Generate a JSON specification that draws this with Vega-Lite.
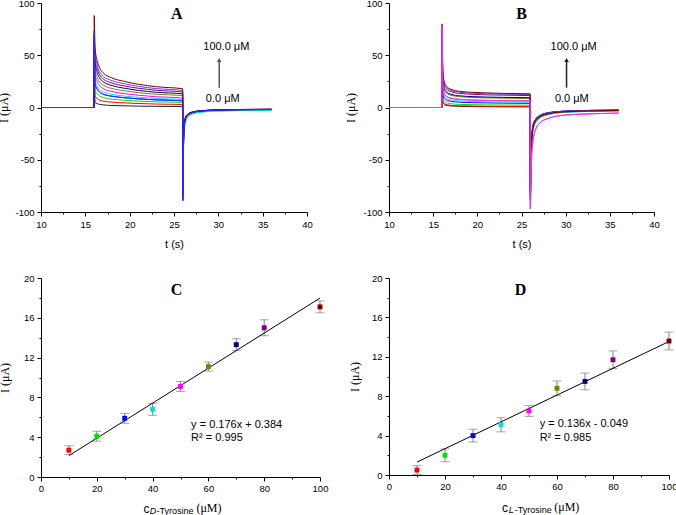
{
  "$schema": "https://vega.github.io/schema/vega-lite/v6.json",
  "background": "white",
  "padding": {"left": -3, "top": -2, "right": 0, "bottom": 0},
  "columns": 2,
  "bounds": "flush",
  "spacing": {"row": 66, "column": 69},
  "config": {
    "view": {"stroke": null},
    "axis": {
      "grid": false,
      "domainColor": "#000000",
      "tickColor": "#000000",
      "labelColor": "#000000",
      "titleColor": "#000000",
      "labelFont": "Liberation Sans",
      "labelFontSize": 9.5,
      "labelPadding": 3,
      "labelFlush": false,
      "labelOverlap": false,
      "tickCount": 30,
      "titleFont": "Liberation Sans",
      "titleFontSize": 11,
      "titleFontWeight": "normal"
    },
    "axisY": {"titleFont": "Liberation Serif", "titleFontSize": 12}
  },
  "datasets": {
    "curvesA": [
      {"c":0,"t":10,"i":0},{"c":0,"t":15.98,"i":0},{"c":0,"t":16,"i":40},{"c":0,"t":16.1,"i":4.9},{"c":0,"t":16.3,"i":3.8},{"c":0,"t":16.6,"i":3.0},{"c":0,"t":17,"i":2.5},{"c":0,"t":18,"i":1.9},{"c":0,"t":19.5,"i":1.6},{"c":0,"t":21,"i":1.3},{"c":0,"t":23,"i":1.1},{"c":0,"t":25.98,"i":0.9},{"c":0,"t":26,"i":-60},{"c":0,"t":26.1,"i":-25},{"c":0,"t":26.3,"i":-11},{"c":0,"t":26.6,"i":-7},{"c":0,"t":27,"i":-5.2},{"c":0,"t":28,"i":-3.6},{"c":0,"t":30,"i":-2.6},{"c":0,"t":33,"i":-2.2},{"c":0,"t":36,"i":-2.0},
      {"c":10,"t":10,"i":0},{"c":10,"t":15.98,"i":0},{"c":10,"t":16,"i":45},{"c":10,"t":16.1,"i":10.9},{"c":10,"t":16.3,"i":8.8},{"c":10,"t":16.6,"i":7.1},{"c":10,"t":17,"i":6.1},{"c":10,"t":18,"i":5.1},{"c":10,"t":19.5,"i":4.4},{"c":10,"t":21,"i":3.8},{"c":10,"t":23,"i":3.3},{"c":10,"t":25.98,"i":2.9},{"c":10,"t":26,"i":-65},{"c":10,"t":26.1,"i":-26},{"c":10,"t":26.3,"i":-11.5},{"c":10,"t":26.6,"i":-7.2},{"c":10,"t":27,"i":-5.4},{"c":10,"t":28,"i":-3.7},{"c":10,"t":30,"i":-2.7},{"c":10,"t":33,"i":-2.3},{"c":10,"t":36,"i":-2.1},
      {"c":20,"t":10,"i":0},{"c":20,"t":15.98,"i":0},{"c":20,"t":16,"i":48},{"c":20,"t":16.1,"i":16.8},{"c":20,"t":16.3,"i":13.6},{"c":20,"t":16.6,"i":11.1},{"c":20,"t":17,"i":9.6},{"c":20,"t":18,"i":8.0},{"c":20,"t":19.5,"i":6.9},{"c":20,"t":21,"i":6.1},{"c":20,"t":23,"i":5.4},{"c":20,"t":25.98,"i":4.8},{"c":20,"t":26,"i":-70},{"c":20,"t":26.1,"i":-28},{"c":20,"t":26.3,"i":-13},{"c":20,"t":26.6,"i":-8.5},{"c":20,"t":27,"i":-6.2},{"c":20,"t":28,"i":-4.3},{"c":20,"t":30,"i":-3.2},{"c":20,"t":33,"i":-2.8},{"c":20,"t":36,"i":-2.6},
      {"c":40,"t":10,"i":0},{"c":40,"t":15.98,"i":0},{"c":40,"t":16,"i":52},{"c":40,"t":16.1,"i":26.2},{"c":40,"t":16.3,"i":21.3},{"c":40,"t":16.6,"i":17.4},{"c":40,"t":17,"i":15.0},{"c":40,"t":18,"i":12.6},{"c":40,"t":19.5,"i":10.9},{"c":40,"t":21,"i":9.7},{"c":40,"t":23,"i":8.6},{"c":40,"t":25.98,"i":7.6},{"c":40,"t":26,"i":-75},{"c":40,"t":26.1,"i":-30},{"c":40,"t":26.3,"i":-14},{"c":40,"t":26.6,"i":-9},{"c":40,"t":27,"i":-6.5},{"c":40,"t":28,"i":-4.5},{"c":40,"t":30,"i":-3.3},{"c":40,"t":33,"i":-2.9},{"c":40,"t":36,"i":-2.7},
      {"c":50,"t":10,"i":0},{"c":50,"t":15.98,"i":0},{"c":50,"t":16,"i":56},{"c":50,"t":16.1,"i":31.8},{"c":50,"t":16.3,"i":25.8},{"c":50,"t":16.6,"i":21.0},{"c":50,"t":17,"i":18.2},{"c":50,"t":18,"i":15.3},{"c":50,"t":19.5,"i":13.2},{"c":50,"t":21,"i":11.7},{"c":50,"t":23,"i":10.3},{"c":50,"t":25.98,"i":9.1},{"c":50,"t":26,"i":-70},{"c":50,"t":26.1,"i":-24},{"c":50,"t":26.3,"i":-10.5},{"c":50,"t":26.6,"i":-6.6},{"c":50,"t":27,"i":-4.9},{"c":50,"t":28,"i":-3.4},{"c":50,"t":30,"i":-2.4},{"c":50,"t":33,"i":-2.0},{"c":50,"t":36,"i":-1.8},
      {"c":60,"t":10,"i":0},{"c":60,"t":15.98,"i":0},{"c":60,"t":16,"i":60},{"c":60,"t":16.1,"i":36.7},{"c":60,"t":16.3,"i":30.0},{"c":60,"t":16.6,"i":24.7},{"c":60,"t":17,"i":21.5},{"c":60,"t":18,"i":18.2},{"c":60,"t":19.5,"i":15.9},{"c":60,"t":21,"i":14.2},{"c":60,"t":23,"i":12.7},{"c":60,"t":25.98,"i":11.4},{"c":60,"t":26,"i":-68},{"c":60,"t":26.1,"i":-25},{"c":60,"t":26.3,"i":-11},{"c":60,"t":26.6,"i":-7},{"c":60,"t":27,"i":-5.1},{"c":60,"t":28,"i":-3.5},{"c":60,"t":30,"i":-2.5},{"c":60,"t":33,"i":-2.1},{"c":60,"t":36,"i":-1.9},
      {"c":70,"t":10,"i":0},{"c":70,"t":15.98,"i":0},{"c":70,"t":16,"i":64},{"c":70,"t":16.1,"i":42.3},{"c":70,"t":16.3,"i":34.6},{"c":70,"t":16.6,"i":28.4},{"c":70,"t":17,"i":24.7},{"c":70,"t":18,"i":21.0},{"c":70,"t":19.5,"i":18.3},{"c":70,"t":21,"i":16.3},{"c":70,"t":23,"i":14.6},{"c":70,"t":25.98,"i":13.0},{"c":70,"t":26,"i":-72},{"c":70,"t":26.1,"i":-23},{"c":70,"t":26.3,"i":-10},{"c":70,"t":26.6,"i":-6.5},{"c":70,"t":27,"i":-4.8},{"c":70,"t":28,"i":-3.3},{"c":70,"t":30,"i":-2.4},{"c":70,"t":33,"i":-2.0},{"c":70,"t":36,"i":-1.8},
      {"c":80,"t":10,"i":0},{"c":80,"t":15.98,"i":0},{"c":80,"t":16,"i":68},{"c":80,"t":16.1,"i":46.7},{"c":80,"t":16.3,"i":38.3},{"c":80,"t":16.6,"i":31.6},{"c":80,"t":17,"i":27.5},{"c":80,"t":18,"i":23.4},{"c":80,"t":19.5,"i":20.5},{"c":80,"t":21,"i":18.4},{"c":80,"t":23,"i":16.5},{"c":80,"t":25.98,"i":14.8},{"c":80,"t":26,"i":-75},{"c":80,"t":26.1,"i":-22},{"c":80,"t":26.3,"i":-9.5},{"c":80,"t":26.6,"i":-6.2},{"c":80,"t":27,"i":-4.6},{"c":80,"t":28,"i":-3.2},{"c":80,"t":30,"i":-2.3},{"c":80,"t":33,"i":-1.9},{"c":80,"t":36,"i":-1.7},
      {"c":90,"t":10,"i":0},{"c":90,"t":15.98,"i":0},{"c":90,"t":16,"i":74},{"c":90,"t":16.1,"i":50.9},{"c":90,"t":16.3,"i":41.8},{"c":90,"t":16.6,"i":34.5},{"c":90,"t":17,"i":30.1},{"c":90,"t":18,"i":25.7},{"c":90,"t":19.5,"i":22.6},{"c":90,"t":21,"i":20.2},{"c":90,"t":23,"i":18.1},{"c":90,"t":25.98,"i":16.3},{"c":90,"t":26,"i":-80},{"c":90,"t":26.1,"i":-22},{"c":90,"t":26.3,"i":-9.5},{"c":90,"t":26.6,"i":-6.2},{"c":90,"t":27,"i":-4.6},{"c":90,"t":28,"i":-3.2},{"c":90,"t":30,"i":-2.3},{"c":90,"t":33,"i":-1.9},{"c":90,"t":36,"i":-1.7},
      {"c":100,"t":10,"i":0},{"c":100,"t":15.98,"i":0},{"c":100,"t":16,"i":88},{"c":100,"t":16.1,"i":56.5},{"c":100,"t":16.3,"i":46.3},{"c":100,"t":16.6,"i":38.2},{"c":100,"t":17,"i":33.3},{"c":100,"t":18,"i":28.3},{"c":100,"t":19.5,"i":24.8},{"c":100,"t":21,"i":22.2},{"c":100,"t":23,"i":19.9},{"c":100,"t":25.98,"i":17.9},{"c":100,"t":26,"i":-85},{"c":100,"t":26.1,"i":-21},{"c":100,"t":26.3,"i":-9},{"c":100,"t":26.6,"i":-6},{"c":100,"t":27,"i":-4.5},{"c":100,"t":28,"i":-3.1},{"c":100,"t":30,"i":-2.2},{"c":100,"t":33,"i":-1.8},{"c":100,"t":36,"i":-1.6},
      {"c":30,"t":10,"i":0},{"c":30,"t":15.98,"i":0},{"c":30,"t":16,"i":70},{"c":30,"t":16.1,"i":22.4},{"c":30,"t":16.3,"i":18.2},{"c":30,"t":16.6,"i":14.8},{"c":30,"t":17,"i":12.8},{"c":30,"t":18,"i":10.8},{"c":30,"t":19.5,"i":9.3},{"c":30,"t":21,"i":8.2},{"c":30,"t":23,"i":7.3},{"c":30,"t":25.98,"i":6.4},{"c":30,"t":26,"i":-89},{"c":30,"t":26.1,"i":-24},{"c":30,"t":26.3,"i":-10.5},{"c":30,"t":26.6,"i":-6.8},{"c":30,"t":27,"i":-5.0},{"c":30,"t":28,"i":-3.4},{"c":30,"t":30,"i":-2.5},{"c":30,"t":33,"i":-2.1},{"c":30,"t":36,"i":-1.9}
    ],
    "curvesB": [
      {"c":0,"t":10,"i":0},{"c":0,"t":15.98,"i":0},{"c":0,"t":16,"i":50},{"c":0,"t":16.1,"i":4.6},{"c":0,"t":16.3,"i":2.6},{"c":0,"t":16.6,"i":1.8},{"c":0,"t":17,"i":1.5},{"c":0,"t":18,"i":1.1},{"c":0,"t":19.5,"i":0.9},{"c":0,"t":21,"i":0.8},{"c":0,"t":23,"i":0.7},{"c":0,"t":25.98,"i":0.6},{"c":0,"t":26,"i":-80},{"c":0,"t":26.1,"i":-42},{"c":0,"t":26.3,"i":-21},{"c":0,"t":26.6,"i":-13.5},{"c":0,"t":27,"i":-10},{"c":0,"t":28,"i":-6.4},{"c":0,"t":30,"i":-4.2},{"c":0,"t":33,"i":-3.4},{"c":0,"t":36,"i":-3.0},
      {"c":10,"t":10,"i":0},{"c":10,"t":15.98,"i":0},{"c":10,"t":16,"i":55},{"c":10,"t":16.1,"i":6.0},{"c":10,"t":16.3,"i":3.5},{"c":10,"t":16.6,"i":2.6},{"c":10,"t":17,"i":2.1},{"c":10,"t":18,"i":1.6},{"c":10,"t":19.5,"i":1.4},{"c":10,"t":21,"i":1.2},{"c":10,"t":23,"i":1.1},{"c":10,"t":25.98,"i":1.0},{"c":10,"t":26,"i":-85},{"c":10,"t":26.1,"i":-41},{"c":10,"t":26.3,"i":-20.5},{"c":10,"t":26.6,"i":-13.2},{"c":10,"t":27,"i":-9.7},{"c":10,"t":28,"i":-6.2},{"c":10,"t":30,"i":-4.1},{"c":10,"t":33,"i":-3.3},{"c":10,"t":36,"i":-2.9},
      {"c":20,"t":10,"i":0},{"c":20,"t":15.98,"i":0},{"c":20,"t":16,"i":58},{"c":20,"t":16.1,"i":9.2},{"c":20,"t":16.3,"i":5.7},{"c":20,"t":16.6,"i":4.4},{"c":20,"t":17,"i":3.7},{"c":20,"t":18,"i":3.0},{"c":20,"t":19.5,"i":2.7},{"c":20,"t":21,"i":2.5},{"c":20,"t":23,"i":2.4},{"c":20,"t":25.98,"i":2.2},{"c":20,"t":26,"i":-95},{"c":20,"t":26.1,"i":-45},{"c":20,"t":26.3,"i":-22.5},{"c":20,"t":26.6,"i":-14.5},{"c":20,"t":27,"i":-10.8},{"c":20,"t":28,"i":-7.0},{"c":20,"t":30,"i":-4.6},{"c":20,"t":33,"i":-3.7},{"c":20,"t":36,"i":-3.2},
      {"c":30,"t":10,"i":0},{"c":30,"t":15.98,"i":0},{"c":30,"t":16,"i":60},{"c":30,"t":16.1,"i":13.0},{"c":30,"t":16.3,"i":8.5},{"c":30,"t":16.6,"i":6.8},{"c":30,"t":17,"i":5.9},{"c":30,"t":18,"i":5.1},{"c":30,"t":19.5,"i":4.6},{"c":30,"t":21,"i":4.4},{"c":30,"t":23,"i":4.2},{"c":30,"t":25.98,"i":4.0},{"c":30,"t":26,"i":-82},{"c":30,"t":26.1,"i":-36},{"c":30,"t":26.3,"i":-17},{"c":30,"t":26.6,"i":-11},{"c":30,"t":27,"i":-8},{"c":30,"t":28,"i":-5},{"c":30,"t":30,"i":-3.4},{"c":30,"t":33,"i":-2.7},{"c":30,"t":36,"i":-2.4},
      {"c":40,"t":10,"i":0},{"c":40,"t":15.98,"i":0},{"c":40,"t":16,"i":62},{"c":40,"t":16.1,"i":16.0},{"c":40,"t":16.3,"i":10.5},{"c":40,"t":16.6,"i":8.4},{"c":40,"t":17,"i":7.4},{"c":40,"t":18,"i":6.3},{"c":40,"t":19.5,"i":5.8},{"c":40,"t":21,"i":5.5},{"c":40,"t":23,"i":5.3},{"c":40,"t":25.98,"i":5.1},{"c":40,"t":26,"i":-90},{"c":40,"t":26.1,"i":-44},{"c":40,"t":26.3,"i":-22},{"c":40,"t":26.6,"i":-14},{"c":40,"t":27,"i":-10.5},{"c":40,"t":28,"i":-6.8},{"c":40,"t":30,"i":-4.5},{"c":40,"t":33,"i":-3.6},{"c":40,"t":36,"i":-3.1},
      {"c":60,"t":10,"i":0},{"c":60,"t":15.98,"i":0},{"c":60,"t":16,"i":65},{"c":60,"t":16.1,"i":23.5},{"c":60,"t":16.3,"i":16.0},{"c":60,"t":16.6,"i":13.2},{"c":60,"t":17,"i":11.7},{"c":60,"t":18,"i":10.3},{"c":60,"t":19.5,"i":9.6},{"c":60,"t":21,"i":9.2},{"c":60,"t":23,"i":8.9},{"c":60,"t":25.98,"i":8.6},{"c":60,"t":26,"i":-85},{"c":60,"t":26.1,"i":-40},{"c":60,"t":26.3,"i":-20},{"c":60,"t":26.6,"i":-13},{"c":60,"t":27,"i":-9.5},{"c":60,"t":28,"i":-6.1},{"c":60,"t":30,"i":-4.1},{"c":60,"t":33,"i":-3.3},{"c":60,"t":36,"i":-2.9},
      {"c":70,"t":10,"i":0},{"c":70,"t":15.98,"i":0},{"c":70,"t":16,"i":68},{"c":70,"t":16.1,"i":25.3},{"c":70,"t":16.3,"i":17.3},{"c":70,"t":16.6,"i":14.3},{"c":70,"t":17,"i":12.7},{"c":70,"t":18,"i":11.2},{"c":70,"t":19.5,"i":10.4},{"c":70,"t":21,"i":10.0},{"c":70,"t":23,"i":9.7},{"c":70,"t":25.98,"i":9.4},{"c":70,"t":26,"i":-88},{"c":70,"t":26.1,"i":-37},{"c":70,"t":26.3,"i":-17.5},{"c":70,"t":26.6,"i":-11.3},{"c":70,"t":27,"i":-8.3},{"c":70,"t":28,"i":-5.2},{"c":70,"t":30,"i":-3.5},{"c":70,"t":33,"i":-2.8},{"c":70,"t":36,"i":-2.5},
      {"c":80,"t":10,"i":0},{"c":80,"t":15.98,"i":0},{"c":80,"t":16,"i":72},{"c":80,"t":16.1,"i":29.3},{"c":80,"t":16.3,"i":20.3},{"c":80,"t":16.6,"i":16.9},{"c":80,"t":17,"i":15.2},{"c":80,"t":18,"i":13.5},{"c":80,"t":19.5,"i":12.6},{"c":80,"t":21,"i":12.1},{"c":80,"t":23,"i":11.8},{"c":80,"t":25.98,"i":11.4},{"c":80,"t":26,"i":-78},{"c":80,"t":26.1,"i":-39},{"c":80,"t":26.3,"i":-19},{"c":80,"t":26.6,"i":-12.3},{"c":80,"t":27,"i":-9},{"c":80,"t":28,"i":-5.8},{"c":80,"t":30,"i":-3.9},{"c":80,"t":33,"i":-3.1},{"c":80,"t":36,"i":-2.7},
      {"c":90,"t":10,"i":0},{"c":90,"t":15.98,"i":0},{"c":90,"t":16,"i":75},{"c":90,"t":16.1,"i":32.2},{"c":90,"t":16.3,"i":22.2},{"c":90,"t":16.6,"i":18.4},{"c":90,"t":17,"i":16.5},{"c":90,"t":18,"i":14.6},{"c":90,"t":19.5,"i":13.6},{"c":90,"t":21,"i":13.1},{"c":90,"t":23,"i":12.7},{"c":90,"t":25.98,"i":12.3},{"c":90,"t":26,"i":-82},{"c":90,"t":26.1,"i":-37},{"c":90,"t":26.3,"i":-17.5},{"c":90,"t":26.6,"i":-11.3},{"c":90,"t":27,"i":-8.3},{"c":90,"t":28,"i":-5.2},{"c":90,"t":30,"i":-3.5},{"c":90,"t":33,"i":-2.8},{"c":90,"t":36,"i":-2.5},
      {"c":100,"t":10,"i":0},{"c":100,"t":15.98,"i":0},{"c":100,"t":16,"i":80},{"c":100,"t":16.1,"i":34.0},{"c":100,"t":16.3,"i":23.5},{"c":100,"t":16.6,"i":19.5},{"c":100,"t":17,"i":17.5},{"c":100,"t":18,"i":15.5},{"c":100,"t":19.5,"i":14.5},{"c":100,"t":21,"i":14.0},{"c":100,"t":23,"i":13.5},{"c":100,"t":25.98,"i":13.1},{"c":100,"t":26,"i":-75},{"c":100,"t":26.1,"i":-40},{"c":100,"t":26.3,"i":-19.5},{"c":100,"t":26.6,"i":-12.6},{"c":100,"t":27,"i":-9.3},{"c":100,"t":28,"i":-6.0},{"c":100,"t":30,"i":-4.0},{"c":100,"t":33,"i":-3.2},{"c":100,"t":36,"i":-2.8},
      {"c":50,"t":10,"i":0},{"c":50,"t":15.98,"i":0},{"c":50,"t":16,"i":78},{"c":50,"t":16.1,"i":19.2},{"c":50,"t":16.3,"i":12.7},{"c":50,"t":16.6,"i":10.2},{"c":50,"t":17,"i":9.0},{"c":50,"t":18,"i":7.8},{"c":50,"t":19.5,"i":7.1},{"c":50,"t":21,"i":6.8},{"c":50,"t":23,"i":6.5},{"c":50,"t":25.98,"i":6.3},{"c":50,"t":26,"i":-97},{"c":50,"t":26.1,"i":-55},{"c":50,"t":26.3,"i":-32},{"c":50,"t":26.6,"i":-21},{"c":50,"t":27,"i":-15.5},{"c":50,"t":28,"i":-10.5},{"c":50,"t":30,"i":-7.2},{"c":50,"t":33,"i":-6.0},{"c":50,"t":36,"i":-5.3}
    ],
    "pointsC": [
      {"c":10,"x":10,"y":2.7,"lo":2.25,"hi":3.15},
      {"c":20,"x":20,"y":4.1,"lo":3.6,"hi":4.6},
      {"c":30,"x":30,"y":5.9,"lo":5.4,"hi":6.4},
      {"c":40,"x":40,"y":6.8,"lo":6.2,"hi":7.4},
      {"c":50,"x":50,"y":9.1,"lo":8.6,"hi":9.6},
      {"c":60,"x":60,"y":11.1,"lo":10.65,"hi":11.55},
      {"c":70,"x":70,"y":13.3,"lo":12.7,"hi":13.9},
      {"c":80,"x":80,"y":15.0,"lo":14.2,"hi":15.8},
      {"c":100,"x":100,"y":17.1,"lo":16.5,"hi":17.7}
    ],
    "pointsD": [
      {"c":10,"x":10,"y":0.5,"lo":0.05,"hi":0.95},
      {"c":20,"x":20,"y":2.0,"lo":1.35,"hi":2.65},
      {"c":30,"x":30,"y":4.0,"lo":3.35,"hi":4.65},
      {"c":40,"x":40,"y":5.1,"lo":4.38,"hi":5.82},
      {"c":50,"x":50,"y":6.5,"lo":5.95,"hi":7.05},
      {"c":60,"x":60,"y":8.8,"lo":8.05,"hi":9.55},
      {"c":70,"x":70,"y":9.5,"lo":8.65,"hi":10.35},
      {"c":80,"x":80,"y":11.7,"lo":10.8,"hi":12.6},
      {"c":100,"x":100,"y":13.6,"lo":12.7,"hi":14.5}
    ],
    "fitC": [{"x":10,"y":2.144},{"x":100,"y":17.984}],
    "fitD": [{"x":10,"y":1.311},{"x":100,"y":13.551}]
  },
  "concat": [
    {
      "width": 266,
      "height": 209,
      "layer": [
        {
          "data": {"name": "curvesA"},
          "mark": {"type": "line", "strokeWidth": 1, "interpolate": "monotone"},
          "encoding": {
            "x": {"field": "t", "type": "quantitative", "scale": {"domain": [10, 40], "nice": false},
              "axis": {"title": "t (s)", "titlePadding": 10, "tickCount": 30, "labelOverlap": false, "values": [10,12.5,15,17.5,20,22.5,25,27.5,30,32.5,35,37.5,40],
                "labelExpr": "datum.value % 5 === 0 ? '' + datum.value : ''",
                "tickSize": {"condition": {"test": "datum.value % 5 !== 0", "value": 2}, "value": 4}}},
            "y": {"field": "i", "type": "quantitative", "scale": {"domain": [-100, 100], "nice": false},
              "axis": {"title": "I (μA)", "titlePadding": 4, "tickCount": 30, "labelOverlap": false, "values": [-100,-75,-50,-25,0,25,50,75,100],
                "labelExpr": "datum.value % 50 === 0 ? '' + datum.value : ''",
                "tickSize": {"condition": {"test": "datum.value % 50 !== 0", "value": 2}, "value": 4}}},
            "color": {"field": "c", "type": "nominal", "legend": null,
              "scale": {"domain": [0,10,20,30,40,50,60,70,80,90,100],
                "range": ["#222222","#ff0000","#00e000","#0000ff","#00e0e0","#ff00ff","#808000","#000080","#800080","#7040e0","#800000"]}}
          }
        },
        {
          "data": {"name": "curvesA"},
          "transform": [{"filter": "datum.c === 30"}],
          "mark": {"type": "line", "strokeWidth": 1, "interpolate": "monotone", "color": "#3030ff"},
          "encoding": {"x": {"field": "t", "type": "quantitative"}, "y": {"field": "i", "type": "quantitative"}}
        },
        {
          "data": {"values": [{"t": 25.3, "i": 89, "s": "A"}]},
          "mark": {"type": "text", "font": "Liberation Serif", "fontWeight": "bold", "fontSize": 16, "baseline": "middle"},
          "encoding": {"x": {"field": "t", "type": "quantitative"}, "y": {"field": "i", "type": "quantitative"}, "text": {"field": "s"}}
        },
        {
          "data": {"values": [{"t": 30.1, "i": 19, "i2": 44}]},
          "mark": {"type": "rule", "color": "#555555", "strokeWidth": 1.5},
          "encoding": {"x": {"field": "t", "type": "quantitative"}, "y": {"field": "i", "type": "quantitative"}, "y2": {"field": "i2"}}
        },
        {
          "data": {"values": [{"t": 30.1, "i": 45.5}]},
          "mark": {"type": "point", "shape": "triangle-up", "filled": true, "size": 22, "color": "#555555", "opacity": 1},
          "encoding": {"x": {"field": "t", "type": "quantitative"}, "y": {"field": "i", "type": "quantitative"}}
        },
        {
          "data": {"values": [{"t": 30.9, "i": 57.6, "s": "100.0 μM"}, {"t": 30.5, "i": 8.4, "s": "0.0 μM"}]},
          "mark": {"type": "text", "font": "Liberation Sans", "fontSize": 11, "baseline": "middle", "color": "#000000"},
          "encoding": {"x": {"field": "t", "type": "quantitative"}, "y": {"field": "i", "type": "quantitative"}, "text": {"field": "s"}}
        }
      ]
    },
    {
      "width": 265,
      "height": 209,
      "layer": [
        {
          "data": {"name": "curvesB"},
          "mark": {"type": "line", "strokeWidth": 1, "interpolate": "monotone"},
          "encoding": {
            "x": {"field": "t", "type": "quantitative", "scale": {"domain": [10, 40], "nice": false},
              "axis": {"title": "t (s)", "titlePadding": 10, "tickCount": 30, "labelOverlap": false, "values": [10,12.5,15,17.5,20,22.5,25,27.5,30,32.5,35,37.5,40],
                "labelExpr": "datum.value % 5 === 0 ? '' + datum.value : ''",
                "tickSize": {"condition": {"test": "datum.value % 5 !== 0", "value": 2}, "value": 4}}},
            "y": {"field": "i", "type": "quantitative", "scale": {"domain": [-100, 100], "nice": false},
              "axis": {"title": "I (μA)", "titlePadding": 5, "tickCount": 30, "labelOverlap": false, "values": [-100,-75,-50,-25,0,25,50,75,100],
                "labelExpr": "datum.value % 50 === 0 ? '' + datum.value : ''",
                "tickSize": {"condition": {"test": "datum.value % 50 !== 0", "value": 2}, "value": 4}}},
            "color": {"field": "c", "type": "nominal", "legend": null,
              "scale": {"domain": [0,10,20,30,40,50,60,70,80,90,100],
                "range": ["#222222","#ff0000","#00e000","#0000ff","#00e0e0","#ff00ff","#808000","#000080","#800080","#7040e0","#800000"]}}
          }
        },
        {
          "data": {"name": "curvesB"},
          "transform": [{"filter": "datum.c === 50"}],
          "mark": {"type": "line", "strokeWidth": 1, "interpolate": "monotone", "color": "#e040e0"},
          "encoding": {"x": {"field": "t", "type": "quantitative"}, "y": {"field": "i", "type": "quantitative"}}
        },
        {
          "data": {"values": [{"t": 25.0, "i": 89, "s": "B"}]},
          "mark": {"type": "text", "font": "Liberation Serif", "fontWeight": "bold", "fontSize": 16, "baseline": "middle"},
          "encoding": {"x": {"field": "t", "type": "quantitative"}, "y": {"field": "i", "type": "quantitative"}, "text": {"field": "s"}}
        },
        {
          "data": {"values": [{"t": 30.1, "i": 19, "i2": 44}]},
          "mark": {"type": "rule", "color": "#222222", "strokeWidth": 1.5},
          "encoding": {"x": {"field": "t", "type": "quantitative"}, "y": {"field": "i", "type": "quantitative"}, "y2": {"field": "i2"}}
        },
        {
          "data": {"values": [{"t": 30.1, "i": 45.5}]},
          "mark": {"type": "point", "shape": "triangle-up", "filled": true, "size": 22, "color": "#222222", "opacity": 1},
          "encoding": {"x": {"field": "t", "type": "quantitative"}, "y": {"field": "i", "type": "quantitative"}}
        },
        {
          "data": {"values": [{"t": 30.9, "i": 57.6, "s": "100.0 μM"}, {"t": 30.7, "i": 8.4, "s": "0.0 μM"}]},
          "mark": {"type": "text", "font": "Liberation Sans", "fontSize": 11, "baseline": "middle", "color": "#000000"},
          "encoding": {"x": {"field": "t", "type": "quantitative"}, "y": {"field": "i", "type": "quantitative"}, "text": {"field": "s"}}
        }
      ]
    },
    {
      "width": 279,
      "height": 199,
      "layer": [
        {
          "data": {"name": "pointsC"},
          "mark": {"type": "rule", "color": "#808080", "strokeWidth": 1},
          "encoding": {
            "x": {"field": "x", "type": "quantitative", "scale": {"domain": [0, 100], "nice": false},
              "axis": {"title": null, "labelPadding": 2, "tickCount": 30, "labelOverlap": false, "values": [0,10,20,30,40,50,60,70,80,90,100],
                "labelExpr": "datum.value % 20 === 0 ? '' + datum.value : ''",
                "tickSize": {"condition": {"test": "datum.value % 20 !== 0", "value": 2}, "value": 4}}},
            "y": {"field": "lo", "type": "quantitative", "scale": {"domain": [0, 20], "nice": false},
              "axis": {"title": "I (μA)", "titlePadding": 12, "tickCount": 30, "labelOverlap": false, "values": [0,2,4,6,8,10,12,14,16,18,20],
                "labelExpr": "datum.value % 4 === 0 ? '' + datum.value : ''",
                "tickSize": {"condition": {"test": "datum.value % 4 !== 0", "value": 2}, "value": 4}}},
            "y2": {"field": "hi"}
          }
        },
        {
          "data": {"name": "pointsC"},
          "mark": {"type": "tick", "orient": "horizontal", "color": "#808080", "size": 9, "thickness": 1},
          "encoding": {"x": {"field": "x", "type": "quantitative"}, "y": {"field": "lo", "type": "quantitative"}}
        },
        {
          "data": {"name": "pointsC"},
          "mark": {"type": "tick", "orient": "horizontal", "color": "#808080", "size": 9, "thickness": 1},
          "encoding": {"x": {"field": "x", "type": "quantitative"}, "y": {"field": "hi", "type": "quantitative"}}
        },
        {
          "data": {"name": "fitC"},
          "mark": {"type": "line", "color": "#000000", "strokeWidth": 1},
          "encoding": {"x": {"field": "x", "type": "quantitative"}, "y": {"field": "y", "type": "quantitative"}}
        },
        {
          "data": {"name": "pointsC"},
          "mark": {"type": "point", "shape": "square", "filled": true, "size": 24, "opacity": 1},
          "encoding": {
            "x": {"field": "x", "type": "quantitative"},
            "y": {"field": "y", "type": "quantitative"},
            "color": {"field": "c", "type": "nominal", "legend": null,
              "scale": {"domain": [0,10,20,30,40,50,60,70,80,90,100],
                "range": ["#222222","#ff0000","#00e000","#0000ff","#00e0e0","#ff00ff","#808000","#000080","#800080","#7040e0","#800000"]}}
          }
        },
        {
          "data": {"values": [{"x": 48.6, "y": 18.8, "s": "C"}]},
          "mark": {"type": "text", "font": "Liberation Serif", "fontWeight": "bold", "fontSize": 16, "baseline": "middle"},
          "encoding": {"x": {"field": "x", "type": "quantitative"}, "y": {"field": "y", "type": "quantitative"}, "text": {"field": "s"}}
        },
        {
          "data": {"values": [{"x": 53.8, "y": 5.26, "s": "y = 0.176x + 0.384"}, {"x": 53.8, "y": 3.92, "s": "R² = 0.995"}]},
          "mark": {"type": "text", "font": "Liberation Sans", "fontSize": 11, "align": "left", "baseline": "middle", "color": "#000000"},
          "encoding": {"x": {"field": "x", "type": "quantitative"}, "y": {"field": "y", "type": "quantitative"}, "text": {"field": "s"}}
        },
        {
          "data": {"values": [{"x": 36.7, "y": -3.2, "s": "c"}]},
          "mark": {"type": "text", "font": "Liberation Sans", "fontSize": 12, "align": "left", "baseline": "middle", "color": "#000000"},
          "encoding": {"x": {"field": "x", "type": "quantitative"}, "y": {"field": "y", "type": "quantitative"}, "text": {"field": "s"}}
        },
        {
          "data": {"values": [{"x": 39.0, "y": -3.45, "s": "D"}]},
          "mark": {"type": "text", "font": "Liberation Sans", "fontSize": 9, "fontStyle": "italic", "align": "left", "baseline": "middle", "color": "#000000"},
          "encoding": {"x": {"field": "x", "type": "quantitative"}, "y": {"field": "y", "type": "quantitative"}, "text": {"field": "s"}}
        },
        {
          "data": {"values": [{"x": 41.4, "y": -3.45, "s": "-Tyrosine"}]},
          "mark": {"type": "text", "font": "Liberation Sans", "fontSize": 9, "align": "left", "baseline": "middle", "color": "#000000"},
          "encoding": {"x": {"field": "x", "type": "quantitative"}, "y": {"field": "y", "type": "quantitative"}, "text": {"field": "s"}}
        },
        {
          "data": {"values": [{"x": 55.7, "y": -3.15, "s": "(μM)"}]},
          "mark": {"type": "text", "font": "Liberation Serif", "fontSize": 12, "align": "left", "baseline": "middle", "color": "#000000"},
          "encoding": {"x": {"field": "x", "type": "quantitative"}, "y": {"field": "y", "type": "quantitative"}, "text": {"field": "s"}}
        }
      ]
    },
    {
      "width": 280,
      "height": 197,
      "layer": [
        {
          "data": {"name": "pointsD"},
          "mark": {"type": "rule", "color": "#808080", "strokeWidth": 1},
          "encoding": {
            "x": {"field": "x", "type": "quantitative", "scale": {"domain": [0, 100], "nice": false},
              "axis": {"title": null, "labelPadding": 2, "tickCount": 30, "labelOverlap": false, "values": [0,10,20,30,40,50,60,70,80,90,100],
                "labelExpr": "datum.value % 20 === 0 ? '' + datum.value : ''",
                "tickSize": {"condition": {"test": "datum.value % 20 !== 0", "value": 2}, "value": 4}}},
            "y": {"field": "lo", "type": "quantitative", "scale": {"domain": [0, 20], "nice": false},
              "axis": {"title": "I (μA)", "titlePadding": 10, "tickCount": 30, "labelOverlap": false, "values": [0,2,4,6,8,10,12,14,16,18,20],
                "labelExpr": "datum.value % 4 === 0 ? '' + datum.value : ''",
                "tickSize": {"condition": {"test": "datum.value % 4 !== 0", "value": 2}, "value": 4}}},
            "y2": {"field": "hi"}
          }
        },
        {
          "data": {"name": "pointsD"},
          "mark": {"type": "tick", "orient": "horizontal", "color": "#808080", "size": 9, "thickness": 1},
          "encoding": {"x": {"field": "x", "type": "quantitative"}, "y": {"field": "lo", "type": "quantitative"}}
        },
        {
          "data": {"name": "pointsD"},
          "mark": {"type": "tick", "orient": "horizontal", "color": "#808080", "size": 9, "thickness": 1},
          "encoding": {"x": {"field": "x", "type": "quantitative"}, "y": {"field": "hi", "type": "quantitative"}}
        },
        {
          "data": {"name": "fitD"},
          "mark": {"type": "line", "color": "#000000", "strokeWidth": 1},
          "encoding": {"x": {"field": "x", "type": "quantitative"}, "y": {"field": "y", "type": "quantitative"}}
        },
        {
          "data": {"name": "pointsD"},
          "mark": {"type": "point", "shape": "square", "filled": true, "size": 24, "opacity": 1},
          "encoding": {
            "x": {"field": "x", "type": "quantitative"},
            "y": {"field": "y", "type": "quantitative"},
            "color": {"field": "c", "type": "nominal", "legend": null,
              "scale": {"domain": [0,10,20,30,40,50,60,70,80,90,100],
                "range": ["#222222","#ff0000","#00e000","#0000ff","#00e0e0","#ff00ff","#808000","#000080","#800080","#7040e0","#800000"]}}
          }
        },
        {
          "data": {"values": [{"x": 47.0, "y": 18.8, "s": "D"}]},
          "mark": {"type": "text", "font": "Liberation Serif", "fontWeight": "bold", "fontSize": 16, "baseline": "middle"},
          "encoding": {"x": {"field": "x", "type": "quantitative"}, "y": {"field": "y", "type": "quantitative"}, "text": {"field": "s"}}
        },
        {
          "data": {"values": [{"x": 53.8, "y": 5.14, "s": "y = 0.136x - 0.049"}, {"x": 53.8, "y": 3.79, "s": "R² = 0.985"}]},
          "mark": {"type": "text", "font": "Liberation Sans", "fontSize": 11, "align": "left", "baseline": "middle", "color": "#000000"},
          "encoding": {"x": {"field": "x", "type": "quantitative"}, "y": {"field": "y", "type": "quantitative"}, "text": {"field": "s"}}
        },
        {
          "data": {"values": [{"x": 40.4, "y": -3.3, "s": "c"}]},
          "mark": {"type": "text", "font": "Liberation Sans", "fontSize": 12, "align": "left", "baseline": "middle", "color": "#000000"},
          "encoding": {"x": {"field": "x", "type": "quantitative"}, "y": {"field": "y", "type": "quantitative"}, "text": {"field": "s"}}
        },
        {
          "data": {"values": [{"x": 42.8, "y": -3.57, "s": "L"}]},
          "mark": {"type": "text", "font": "Liberation Sans", "fontSize": 9, "fontStyle": "italic", "align": "left", "baseline": "middle", "color": "#000000"},
          "encoding": {"x": {"field": "x", "type": "quantitative"}, "y": {"field": "y", "type": "quantitative"}, "text": {"field": "s"}}
        },
        {
          "data": {"values": [{"x": 44.9, "y": -3.57, "s": "-Tyrosine"}]},
          "mark": {"type": "text", "font": "Liberation Sans", "fontSize": 9, "align": "left", "baseline": "middle", "color": "#000000"},
          "encoding": {"x": {"field": "x", "type": "quantitative"}, "y": {"field": "y", "type": "quantitative"}, "text": {"field": "s"}}
        },
        {
          "data": {"values": [{"x": 59.0, "y": -3.24, "s": "(μM)"}]},
          "mark": {"type": "text", "font": "Liberation Serif", "fontSize": 12, "align": "left", "baseline": "middle", "color": "#000000"},
          "encoding": {"x": {"field": "x", "type": "quantitative"}, "y": {"field": "y", "type": "quantitative"}, "text": {"field": "s"}}
        }
      ]
    }
  ]
}
